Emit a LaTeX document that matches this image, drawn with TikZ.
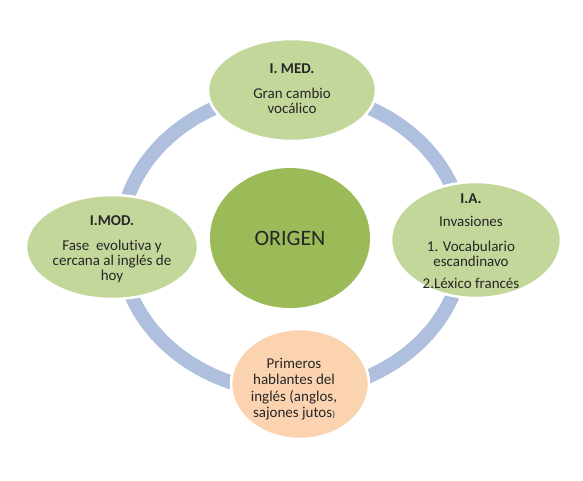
\documentclass[tikz,border=0pt]{standalone}
\usepackage{fontspec}
\setmainfont{Carlito}[Ligatures=NoCommon]
\usetikzlibrary{shapes.geometric}
\definecolor{lgreen}{HTML}{C4D79B}
\definecolor{dgreen}{HTML}{9BBB59}
\definecolor{peach}{HTML}{FCD3B1}
\definecolor{ring}{HTML}{AFC0DE}
\definecolor{txtc}{HTML}{262626}
\tikzset{
  bubble/.style={ellipse, draw=white, line width=2.5pt, inner sep=0pt},
  txt/.style={align=center, text=txtc, inner sep=0pt, font=\fontsize{15}{15}\selectfont},
}
\begin{document}
\begin{tikzpicture}[x=1pt,y=-1pt]
\useasboundingbox (0,0) rectangle (583,480);
\coordinate (c) at (292,242);
\draw[ring, line width=14pt] (c) ellipse [x radius=172, y radius=150];
\node[bubble, fill=lgreen, minimum width=168, minimum height=102] (imed) at (292,90) {};
\node[bubble, fill=lgreen, minimum width=172, minimum height=104] (imod) at (112,247) {};
\node[bubble, fill=lgreen, minimum width=170, minimum height=116] (ia) at (476,240) {};
\node[bubble, fill=peach, minimum width=138, minimum height=110] (prim) at (300,384) {};
\node[bubble, fill=dgreen, draw=none, minimum width=160, minimum height=140] (orig) at (290,238) {};
\node[txt] (imedT) at (292,89) {\textbf{I. MED.}\\[10pt]Gran cambio\\vocálico};
\node[txt] (imodT) at (112,249) {\textbf{I.MOD.}\\[10pt]Fase\ \ evolutiva y\\cercana al inglés de\\hoy};
\node[txt] (iaT) at (471,241) {\textbf{I.A.}\\[8pt]Invasiones\\[10pt]1. Vocabulario\\escandinavo\\[7pt]2.Léxico francés};
\node[txt, font=\fontsize{15}{16.5}\selectfont] (primT) at (294,389) {Primeros\\hablantes del\\inglés (anglos,\\sajones jutos{\fontsize{9}{9}\selectfont)}};
\node[txt, font=\fontsize{22}{26}\selectfont] (origT) at (orig) {ORIGEN};
\end{tikzpicture}
\end{document}
